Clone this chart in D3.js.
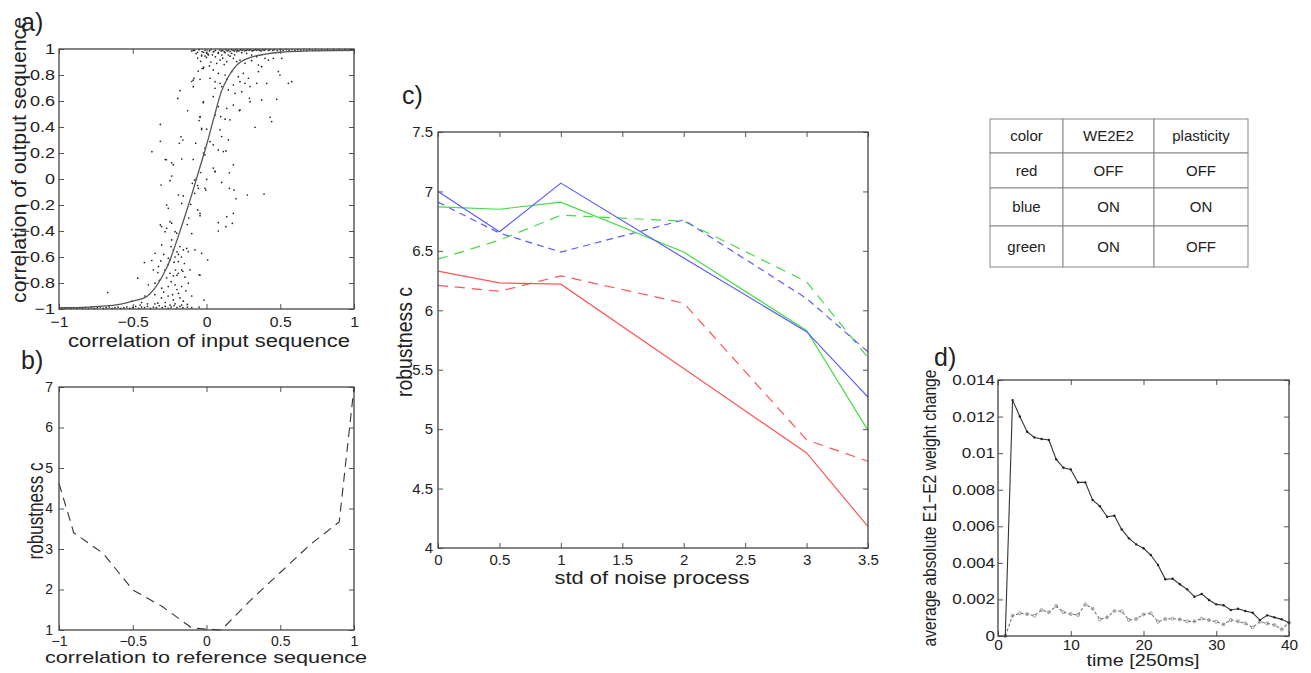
<!DOCTYPE html>
<html><head><meta charset="utf-8">
<script src="https://cdn.jsdelivr.net/npm/d3@7"></script>
<style>
body{margin:0;background:#fff}
svg text{font-family:"Liberation Sans",Arial,Helvetica,sans-serif;fill:#222}
</style>
</head><body>
<svg id="fig" width="1311" height="673"></svg>
<script>
// ---------------- DATA ----------------
// Panel a: scatter of output vs input correlation
const scatterA = [
[-0.033,0.946],[-0.03,0.85],[-0.02,0.86],[-0.056,0.83],[-0.044,0.767],[-0.09,0.76],[-0.10,0.75],[-0.085,0.775],[-0.09,0.71],[-0.18,0.68],[-0.195,0.62],[-0.022,0.587],[-0.128,0.525],[-0.044,0.475],[-0.05,0.45],[-0.033,0.38],[-0.313,0.42],[-0.313,0.29],[-0.173,0.325],[-0.16,0.30],[-0.184,0.275],[-0.073,0.275],[-0.37,0.21],[-0.28,0.15],[-0.272,0.148],[-0.236,0.125],[-0.225,0.11],[-0.168,0.154],
[-0.033,0.954],[-0.01,0.946],[0.013,0.954],[0.046,0.979],[0.08,0.967],[0.103,0.954],[0.126,0.972],[0.148,0.954],[0.171,0.967],[0.205,0.979],[0.239,0.972],[0.272,0.967],[0.306,0.954],[0.34,0.941],
[0.069,0.89],[0.092,0.915],[0.137,0.903],[0.182,0.928],[0.205,0.903],[0.227,0.915],[0.261,0.89],[0.306,0.91],[0.352,0.877],[0.374,0.864],[0.397,0.928],[0.42,0.915],[0.453,0.928],[0.51,0.928],
[-0.021,0.851],[0.046,0.839],[0.08,0.813],[0.126,0.8],[0.171,0.826],[0.216,0.787],[0.25,0.813],[0.284,0.775],[0.352,0.826],
[0.024,0.775],[0.058,0.749],[0.092,0.736],[0.137,0.767],[0.182,0.723],[0.227,0.749],[0.261,0.736],[0.295,0.711],[0.34,0.736],[0.408,0.736],[0.487,0.826],[0.498,0.8],[0.555,0.736],[0.578,0.749],
[0.058,0.698],[0.103,0.711],[0.148,0.685],[0.193,0.659],[0.239,0.672],[0.291,0.621],[0.295,0.595],[0.374,0.608],[0.476,0.613],
[-0.021,0.595],[0.046,0.634],[0.08,0.557],[0.137,0.544],[0.182,0.569],[0.227,0.531],[0.096,0.48],[0.126,0.46],[0.159,0.455],[0.223,0.526],[0.329,0.398],[0.431,0.475],[0.442,0.442],
[-0.044,0.48],[-0.033,0.39],[0.001,0.383],[0.058,0.493],[0.092,0.378],[0.103,0.327],[0.148,0.301],[0.046,0.263],[0.08,0.224],[0.114,0.211],[0.132,0.216],[0.024,0.288],[-0.01,0.237],
[0.046,0.084],[0.058,0.058],[0.182,0.109],[-0.01,0.186],
[-0.09,0.99],[-0.07,0.965],[-0.06,0.93],[-0.04,0.905],[-0.02,0.975],[0.0,0.935],[0.01,0.96],[0.03,0.9],[0.02,0.87],[0.06,0.94],[0.11,0.93],[0.16,0.945],[0.19,0.955],[0.12,0.88],[0.04,0.955],
[-0.236,0.023],[-0.308,-0.046],[-0.247,-0.013],[-0.082,-0.008],[-0.096,-0.033],[-0.055,-0.072],[-0.191,-0.123],[-0.157,-0.13],[-0.107,-0.195],[-0.27,-0.2],[-0.259,-0.225],[-0.168,-0.187],[-0.06,-0.238],[-0.044,-0.264],[-0.313,-0.353],[-0.304,-0.366],[-0.247,-0.328],[-0.236,-0.34],[-0.27,-0.379],[-0.281,-0.405],[-0.213,-0.405],[-0.202,-0.417],[-0.236,-0.469],[-0.304,-0.507],[-0.24,-0.52],[-0.225,-0.545],[-0.18,-0.52],[-0.157,-0.545],[-0.134,-0.533],[-0.123,-0.558],[-0.078,-0.545],[-0.349,-0.571],[-0.259,-0.609],[-0.247,-0.622],[-0.213,-0.6],[-0.191,-0.635],[-0.421,-0.643],[-0.371,-0.627],[-0.36,-0.699],[-0.326,-0.674],[-0.281,-0.699],[-0.247,-0.725],[-0.225,-0.745],[-0.191,-0.725],[-0.168,-0.699],[-0.146,-0.755],[-0.112,-0.699],[-0.05,-0.737],[-0.467,-0.763],[-0.394,-0.814],[-0.349,-0.801],[-0.304,-0.84],[-0.259,-0.827],[-0.213,-0.814],[-0.168,-0.827],[-0.123,-0.801],[-0.67,-0.873],
[-0.417,-0.9],[-0.35,-0.89],[-0.305,-0.915],[-0.26,-0.9],[-0.225,-0.93],[-0.18,-0.915],[-0.157,-0.94],[-0.1,-0.9],[-0.507,-0.94],[-0.44,-0.95],[-0.35,-0.96],[-0.28,-0.95],[-0.247,-0.97],[-0.213,-0.96],[-0.168,-0.97],[-0.13,-0.965],[-0.2,-0.85],[-0.29,-0.87],[-0.32,-0.78],[-0.27,-0.76],[-0.14,-0.86],[-0.19,-0.88],[-0.23,-0.89],
[-0.2,-0.56],[-0.19,-0.58],[-0.17,-0.6],[-0.22,-0.64],[-0.26,-0.66],[-0.15,-0.65],[-0.29,-0.58],[-0.21,-0.7],[-0.24,-0.79],[-0.2,-0.74],[-0.16,-0.71],[-0.31,-0.63],[-0.33,-0.72],
[0.058,0.056],[0.155,0.048],[0.001,-0.003],[0.103,-0.026],[-0.01,-0.072],[-0.005,-0.085],[0.155,-0.072],[0.187,-0.085],[0.277,-0.123],[0.39,-0.116],[0.2,-0.152],[-0.044,-0.282],[0.182,-0.264],[0.137,-0.29],[0.175,-0.341],[0.08,-0.336],[0.132,-0.367],[0.08,-0.4],[-0.033,-0.572],[0.008,-0.623],[-0.044,-0.739],[-0.017,-0.931],
[-0.07,0.0],[-0.06,-0.05],[-0.08,-0.11],[-0.04,0.05],[-0.12,-0.3],[-0.13,-0.35],[-0.1,-0.42],[-0.09,0.15],[-0.02,0.2],
[-0.1,0.985],[-0.08,0.99],[-0.06,0.975],[-0.05,0.995],[-0.03,0.98],[-0.01,0.99],[0.0,0.97],[0.02,0.985],[0.03,0.995],[0.05,0.98],[0.06,0.99],[0.08,0.975],[0.09,0.995],[0.1,0.985],[0.11,0.99],[0.12,0.98],[0.13,0.995],[0.14,0.985],[0.15,0.99],[0.16,0.98],[0.17,0.995],[0.18,0.99],[0.19,0.985],[0.2,0.995],[0.21,0.99],[0.22,0.985],[0.23,0.995],[0.24,0.99],[0.25,0.995],[0.26,0.985],[0.27,0.99],[0.28,0.995],[0.29,0.99],[0.3,0.995],[0.31,0.985],[0.32,0.99],[0.33,0.995],[0.34,0.99],[0.35,0.995],[0.36,0.99],[0.37,0.985],[0.38,0.995],[0.39,0.99],[0.4,0.995],[0.42,0.99],[0.43,0.995],[0.45,0.99],[0.46,0.995],[0.48,0.99],[0.5,0.995],[0.52,0.99],[0.54,0.995],[0.56,0.99],[0.58,0.995],[0.6,0.99],[0.62,0.995],[0.64,0.99],[0.66,0.995],[0.68,0.99],[0.7,0.995],[0.72,0.99],[0.74,0.995],[0.76,0.99],[0.78,0.995],[0.8,0.99],[0.82,0.995],[0.84,0.99],[0.86,0.995],[0.88,0.99],[0.9,0.995],[0.92,0.99],[0.94,0.995],[0.96,0.99],[0.98,0.995],
[-0.98,-0.99],[-0.96,-0.995],[-0.94,-0.99],[-0.92,-0.995],[-0.9,-0.99],[-0.88,-0.995],[-0.86,-0.99],[-0.84,-0.995],[-0.82,-0.99],[-0.8,-0.995],[-0.78,-0.99],[-0.76,-0.995],[-0.74,-0.99],[-0.72,-0.985],[-0.7,-0.995],[-0.68,-0.99],[-0.66,-0.985],[-0.64,-0.995],[-0.62,-0.99],[-0.6,-0.985],[-0.58,-0.995],[-0.56,-0.99],[-0.54,-0.985],[-0.52,-0.995],[-0.5,-0.99],[-0.48,-0.98],[-0.46,-0.995],[-0.44,-0.985],[-0.42,-0.99],[-0.4,-0.98],[-0.38,-0.995],[-0.36,-0.985],[-0.34,-0.99],[-0.32,-0.975],[-0.3,-0.99],[-0.28,-0.98],[-0.26,-0.995],[-0.24,-0.985],[-0.22,-0.975],[-0.2,-0.99],[-0.18,-0.98],[-0.16,-0.99],[-0.13,-0.985],[-0.1,-0.99],[-0.05,-0.985],[-0.45,-0.97],[-0.4,-0.96],[-0.33,-0.955]
];
const curveAX = [-1,-0.8,-0.6,-0.5,-0.4,-0.35,-0.3,-0.25,-0.2,-0.15,-0.1,-0.05,0,0.05,0.1,0.15,0.2,0.3,0.4,0.5,0.7,1];
const curveAY = [-0.99,-0.985,-0.967,-0.94,-0.90,-0.84,-0.75,-0.63,-0.47,-0.30,-0.12,0.07,0.26,0.47,0.67,0.79,0.87,0.935,0.96,0.975,0.985,0.99];
const aXTicks = [-1,-0.5,0,0.5,1];
const aYTicks = [-1,-0.8,-0.6,-0.4,-0.2,0,0.2,0.4,0.6,0.8,1];

// Panel b: robustness vs correlation to reference
const refCorr = [-1,-0.9,-0.7,-0.5,-0.3,-0.1,0.1,0.3,0.5,0.7,0.9,1];
const refRobust = [4.62,3.40,2.89,1.99,1.58,1.05,1.0,1.74,2.42,3.1,3.67,7.0];
const bXTicks = [-1,-0.5,0,0.5,1];
const bYTicks = [1,2,3,4,5,6,7];

// Panel c: robustness vs noise std
const noiseStd = [0,0.5,1,2,3,3.5];
const blueSolid   = [7.00,6.66,7.07,6.44,5.82,5.27];
const blueDashed  = [6.91,6.65,6.49,6.76,6.10,5.65];
const greenSolid  = [6.87,6.85,6.91,6.49,5.83,4.99];
const greenDashed = [6.43,6.59,6.80,6.75,6.24,5.60];
const redSolid    = [6.33,6.23,6.22,5.51,4.80,4.18];
const redDashed   = [6.21,6.16,6.29,6.06,4.91,4.73];
const cXTicks = [0,0.5,1,1.5,2,2.5,3,3.5];
const cYTicks = [4,4.5,5,5.5,6,6.5,7,7.5];

// Panel d: average absolute weight change over time
const timeSteps = [1,2,3,4,5,6,7,8,9,10,11,12,13,14,15,16,17,18,19,20,21,22,23,24,25,26,27,28,29,30,31,32,33,34,35,36,37,38,39,40];
const weightSolid = [0,0.0129,0.0120,0.01117,0.01086,0.01077,0.01072,0.00966,0.0092,0.00911,0.0084,0.0084,0.00744,0.0071,0.00652,0.00658,0.00583,0.00534,0.00501,0.0048,0.00443,0.00388,0.0031,0.00313,0.00283,0.00255,0.00215,0.0023,0.00197,0.00173,0.00168,0.00142,0.00149,0.00137,0.00127,0.00087,0.00113,0.00102,0.00091,0.00073];
const weightDashed = [0,0.00111,0.00124,0.0012,0.00111,0.00142,0.0013,0.00164,0.0013,0.0012,0.00115,0.00173,0.0015,0.00091,0.00102,0.00137,0.00135,0.00088,0.00093,0.00118,0.00124,0.00078,0.00093,0.00095,0.00091,0.0008,0.0008,0.00095,0.00087,0.00078,0.00064,0.00087,0.0008,0.00069,0.00047,0.00078,0.00069,0.0006,0.00036,0.00073];
const dXTicks = [0,10,20,30,40];
const dYTicks = [0,0.002,0.004,0.006,0.008,0.01,0.012,0.014];

// Table
const tableHeader = ["color","WE2E2","plasticity"];
const tableRows = [["red","OFF","OFF"],["blue","ON","ON"],["green","ON","OFF"]];

// ---------------- DRAWING ----------------
const svg = d3.select("#fig");
const FONT = '"Liberation Sans",Arial,Helvetica,sans-serif';
const fmt = d3.format("~g");

function makePanel(c) {
  const g = svg.append("g");
  const x = d3.scaleLinear().domain(c.xDomain).range([c.left, c.right]);
  const y = d3.scaleLinear().domain(c.yDomain).range([c.bottom, c.top]);
  const tl = 5;
  const gx = g.append("g").attr("transform", `translate(0,${c.bottom})`)
    .call(d3.axisBottom(x).tickValues(c.xTicks).tickFormat(fmt).tickSizeInner(-tl).tickSizeOuter(0).tickPadding(c.xPad));
  g.append("g").attr("transform", `translate(0,${c.top})`)
    .call(d3.axisTop(x).tickValues(c.xTicks).tickFormat("").tickSizeInner(-tl).tickSizeOuter(0));
  const gy = g.append("g").attr("transform", `translate(${c.left},0)`)
    .call(d3.axisLeft(y).tickValues(c.yTicks).tickFormat(fmt).tickSizeInner(-tl).tickSizeOuter(0).tickPadding(c.yPad));
  g.append("g").attr("transform", `translate(${c.right},0)`)
    .call(d3.axisRight(y).tickValues(c.yTicks).tickFormat("").tickSizeInner(-tl).tickSizeOuter(0));
  g.selectAll(".domain").remove();
  g.selectAll(".tick line").attr("stroke", "#555").attr("stroke-width", 1);
  g.selectAll(".tick text").attr("font-size", c.fs).attr("font-family", FONT).attr("fill", "#222");
  gx.selectAll(".tick text").attr("transform", `scale(${c.sxX},1)`);
  gy.selectAll(".tick text").attr("x", 0).attr("transform", `translate(${-c.yPad},0) scale(${c.sxY},1)`);
  const plot = g.append("g");
  g.append("rect").attr("x", c.left).attr("y", c.top)
    .attr("width", c.right - c.left).attr("height", c.bottom - c.top)
    .attr("fill", "none").attr("stroke", "#444").attr("stroke-width", 1.3);
  return {g, plot, x, y};
}

function label(txt, x, y, size, len, rotate) {
  const t = svg.append("text").text(txt).attr("font-size", size).attr("text-anchor", "middle")
    .attr("font-family", FONT).attr("fill", "#222");
  if (len) t.attr("textLength", len).attr("lengthAdjust", "spacingAndGlyphs");
  if (rotate) t.attr("transform", `translate(${x},${y}) rotate(-90)`);
  else t.attr("x", x).attr("y", y);
  return t;
}
function panelLetter(txt, x, y) {
  svg.append("text").text(txt).attr("x", x).attr("y", y).attr("font-size", 25)
    .attr("font-family", FONT).attr("fill", "#222");
}

// ---- Panel a ----
const A = makePanel({left:59,right:354,top:49,bottom:309,xDomain:[-1,1],yDomain:[-1,1],
  xTicks:aXTicks,yTicks:aYTicks,xPad:7,yPad:4,fs:15,sxX:1.05,sxY:1.2});
A.plot.selectAll("circle").data(scatterA).join("circle")
  .attr("cx", d => A.x(d[0])).attr("cy", d => A.y(d[1])).attr("r", 0.85).attr("fill", "#222");
const curveA = curveAX.map((v, i) => [v, curveAY[i]]);
A.plot.append("path").datum(curveA)
  .attr("d", d3.line().x(d => A.x(d[0])).y(d => A.y(d[1])).curve(d3.curveMonotoneX))
  .attr("fill", "none").attr("stroke", "#555").attr("stroke-width", 1.3);
panelLetter("a)", 21, 31);
label("correlation of input sequence", 209, 347, 18, 282);
label("correlation of output sequence", 26, 160, 20, 286, true);

// ---- Panel b ----
const B = makePanel({left:59,right:354,top:387,bottom:630,xDomain:[-1,1],yDomain:[1,7],
  xTicks:bXTicks,yTicks:bYTicks,xPad:6,yPad:6,fs:14,sxX:1.0,sxY:1.0});
const bData = refCorr.map((v, i) => [v, refRobust[i]]);
B.plot.append("path").datum(bData)
  .attr("d", d3.line().x(d => B.x(d[0])).y(d => B.y(d[1])))
  .attr("fill", "none").attr("stroke", "#333").attr("stroke-width", 1.1).attr("stroke-dasharray", "9,6");
panelLetter("b)", 21, 369);
label("correlation to reference sequence", 206, 663, 17, 322);
label("robustness c", 43, 511, 22, 97, true);

// ---- Panel c ----
const C = makePanel({left:438,right:868,top:132,bottom:548,xDomain:[0,3.5],yDomain:[4,7.5],
  xTicks:cXTicks,yTicks:cYTicks,xPad:6,yPad:5,fs:15,sxX:1.0,sxY:1.0});
const cSeries = [
  {v: redSolid, color: "#ff5555", dash: null},
  {v: redDashed, color: "#ff5555", dash: "10,7"},
  {v: greenDashed, color: "#44dd44", dash: "10,7"},
  {v: blueDashed, color: "#5a5aff", dash: "7,5"},
  {v: greenSolid, color: "#44dd44", dash: null},
  {v: blueSolid, color: "#5a5aff", dash: null}
];
const cLine = d3.line().x(d => C.x(d[0])).y(d => C.y(d[1]));
cSeries.forEach(s => {
  C.plot.append("path").datum(noiseStd.map((n, i) => [n, s.v[i]]))
    .attr("d", cLine).attr("fill", "none").attr("stroke", s.color).attr("stroke-width", 1.2)
    .attr("stroke-dasharray", s.dash);
});
panelLetter("c)", 402, 104);
label("std of noise process", 652, 584, 18, 195);
label("robustness c", 412, 342, 22, 110, true);

// ---- Panel d ----
const D = makePanel({left:998,right:1289,top:380,bottom:636,xDomain:[0,40],yDomain:[0,0.014],
  xTicks:dXTicks,yTicks:dYTicks,xPad:4,yPad:3,fs:14,sxX:1.1,sxY:1.22});
const dLine = d3.line().x(d => D.x(d[0])).y(d => D.y(d[1]));
const dSolid = timeSteps.map((t, i) => [t, weightSolid[i]]);
const dDashed = timeSteps.map((t, i) => [t, weightDashed[i]]);
D.plot.append("path").datum(dDashed).attr("d", dLine).attr("fill", "none")
  .attr("stroke", "#777").attr("stroke-width", 1.1).attr("stroke-dasharray", "3,2");
D.plot.selectAll("circle.dd").data(dDashed).join("circle").attr("class", "dd")
  .attr("cx", d => D.x(d[0])).attr("cy", d => D.y(d[1])).attr("r", 1.5)
  .attr("fill", "none").attr("stroke", "#888").attr("stroke-width", 0.8);
D.plot.append("path").datum(dSolid).attr("d", dLine).attr("fill", "none")
  .attr("stroke", "#333").attr("stroke-width", 1.1);
D.plot.selectAll("circle.ds").data(dSolid).join("circle").attr("class", "ds")
  .attr("cx", d => D.x(d[0])).attr("cy", d => D.y(d[1])).attr("r", 1.2).attr("fill", "#222");
panelLetter("d)", 934, 366);
label("time [250ms]", 1143, 666, 17, 113);
label("average absolute E1\u2212E2 weight change", 936, 508, 19, 277, true);

// ---- Table ----
const colEdges = [990, 1063, 1154, 1248];
const rowEdges = [119, 153, 188, 226, 267];
const tg = svg.append("g");
const allRows = [tableHeader].concat(tableRows);
allRows.forEach((row, r) => {
  row.forEach((cell, ci) => {
    tg.append("rect").attr("x", colEdges[ci]).attr("y", rowEdges[r])
      .attr("width", colEdges[ci + 1] - colEdges[ci]).attr("height", rowEdges[r + 1] - rowEdges[r])
      .attr("fill", "#fff").attr("stroke", "#888").attr("stroke-width", 1);
    tg.append("text").text(cell)
      .attr("x", (colEdges[ci] + colEdges[ci + 1]) / 2)
      .attr("y", (rowEdges[r] + rowEdges[r + 1]) / 2 + 5)
      .attr("text-anchor", "middle").attr("font-size", 15).attr("font-family", FONT).attr("fill", "#222");
  });
});
</script>
</body></html>
